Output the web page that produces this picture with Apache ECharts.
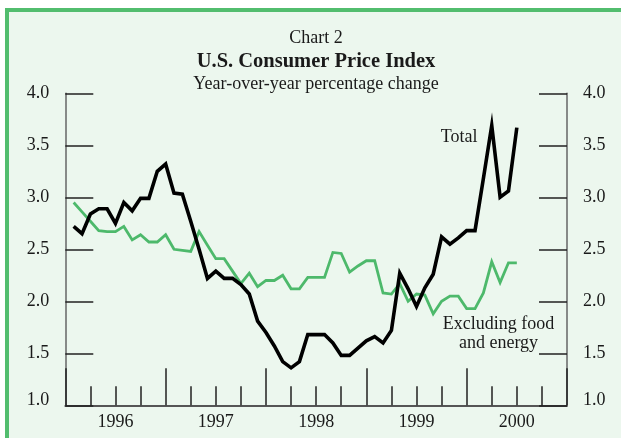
<!DOCTYPE html>
<html>
<head>
<meta charset="utf-8">
<script src="https://cdn.jsdelivr.net/npm/echarts@6/dist/echarts.min.js"></script>
<style>
html,body{margin:0;padding:0;background:#fff;}
#chart{width:621px;height:438px;}
</style>
</head>
<body>
<div id="chart"></div>
<script>
// Monthly data, Jan 1996 .. Jun 2000 (year-over-year % change)
const yearLabels = ['1996', '1997', '1998', '1999', '2000'];
const totalCPI = [
  2.72, 2.65, 2.84, 2.89, 2.89, 2.75, 2.95, 2.87, 2.99, 2.99, 3.25, 3.32,
  3.04, 3.03, 2.77, 2.50, 2.22, 2.29, 2.22, 2.22, 2.16, 2.07, 1.81, 1.70,
  1.57, 1.42, 1.36, 1.42, 1.68, 1.68, 1.68, 1.60, 1.48, 1.48, 1.55, 1.62,
  1.66, 1.60, 1.72, 2.27, 2.12, 1.95, 2.13, 2.26, 2.62, 2.55, 2.61, 2.68,
  2.68, 3.18, 3.69, 3.00, 3.06, 3.67
];
const coreCPI = [
  2.95, 2.86, 2.77, 2.68, 2.67, 2.67, 2.72, 2.59, 2.64, 2.57, 2.57, 2.64,
  2.50, 2.49, 2.48, 2.67, 2.54, 2.41, 2.41, 2.29, 2.17, 2.27, 2.14, 2.20,
  2.20, 2.25, 2.12, 2.12, 2.23, 2.23, 2.23, 2.47, 2.46, 2.28, 2.34, 2.39,
  2.39, 2.08, 2.07, 2.17, 2.00, 2.07, 2.06, 1.88, 2.00, 2.05, 2.05, 1.93,
  1.93, 2.08, 2.38, 2.18, 2.37, 2.37
];
const yTicks = {min: 1, max: 4, step: 0.5};

const FONT = 'Liberation Serif';
const TXT = '#1a1a1a';
const toPts = arr => arr.map((v, i) => [i + 1, v]);

const yLabelFmt = v => v === yTicks.min ? '{lo|' + v.toFixed(1) + '}' : v.toFixed(1);
const yAxisBase = pos => ({
  type: 'value', position: pos, min: yTicks.min, max: yTicks.max, interval: yTicks.step,
  axisLine: {show: true, onZero: false, lineStyle: {color: '#666', width: 1.5}},
  axisTick: {show: true, inside: true, length: 28, lineStyle: {color: '#222', width: 1.5}},
  axisLabel: {margin: 16, color: TXT, fontFamily: FONT, fontSize: 18, formatter: yLabelFmt,
    rich: {lo: {fontFamily: FONT, fontSize: 18, color: TXT, padding: [0, 0, 11, 0]}}},
  splitLine: {show: false}
});

const chart = echarts.init(document.getElementById('chart'), null, {renderer: 'canvas'});
chart.setOption({
  animation: false,
  backgroundColor: '#ffffff',
  grid: {left: 65.3, right: 54, top: 93.3, bottom: 32.7},
  xAxis: [
    {
      type: 'value', min: 0, max: 60, interval: 12, position: 'bottom',
      axisLine: {show: true, onZero: false, lineStyle: {color: '#555', width: 1.8}},
      axisTick: {show: true, inside: true, length: 37, lineStyle: {color: '#222', width: 1.5}},
      minorTick: {show: true, splitNumber: 4, length: 19, lineStyle: {color: '#222', width: 1.5}},
      axisLabel: {show: false},
      splitLine: {show: false}
    },
    {
      type: 'value', min: 0, max: 60, interval: 6, position: 'bottom',
      axisLine: {show: false, onZero: false}, axisTick: {show: false}, splitLine: {show: false},
      axisLabel: {
        margin: 8, color: TXT, fontFamily: FONT, fontSize: 18, showMinLabel: true, showMaxLabel: true,
        formatter: v => (v % 12 === 6) ? yearLabels[(v - 6) / 12] : ''
      }
    }
  ],
  yAxis: [yAxisBase('left'), yAxisBase('right')],
  series: [
    {
      name: 'Excluding food and energy', type: 'line', xAxisIndex: 0, yAxisIndex: 0,
      data: toPts(coreCPI), showSymbol: false, symbol: 'none', z: 3,
      lineStyle: {color: '#4DB96B', width: 2.8, join: 'miter'}
    },
    {
      name: 'Total', type: 'line', xAxisIndex: 0, yAxisIndex: 0,
      data: toPts(totalCPI), showSymbol: false, symbol: 'none', z: 4,
      lineStyle: {color: '#000000', width: 3.6, join: 'miter'}
    }
  ],
  graphic: [
    {type: 'rect', z: -10, silent: true, shape: {x: 5, y: 8, width: 616, height: 430}, style: {fill: '#ECF7EE'}},
    {type: 'rect', z: -9, silent: true, shape: {x: 5, y: 8, width: 616, height: 4}, style: {fill: '#52BD6E'}},
    {type: 'rect', z: -9, silent: true, shape: {x: 5, y: 8, width: 4, height: 430}, style: {fill: '#52BD6E'}},
    {type: 'text', z: 10, x: 316, y: 37.8, style: {text: 'Chart 2', font: '18px "Liberation Serif"', fill: TXT, textAlign: 'center', textVerticalAlign: 'middle'}},
    {type: 'text', z: 10, x: 316, y: 61.5, style: {text: 'U.S. Consumer Price Index', font: 'bold 20.5px "Liberation Serif"', fill: TXT, textAlign: 'center', textVerticalAlign: 'middle'}},
    {type: 'text', z: 10, x: 316, y: 84.5, style: {text: 'Year-over-year percentage change', font: '18px "Liberation Serif"', fill: TXT, textAlign: 'center', textVerticalAlign: 'middle'}},
    {type: 'text', z: 10, x: 477.5, y: 137.5, style: {text: 'Total', font: '18px "Liberation Serif"', fill: TXT, textAlign: 'right', textVerticalAlign: 'middle'}},
    {type: 'text', z: 10, x: 498.5, y: 324.5, style: {text: 'Excluding food', font: '18px "Liberation Serif"', fill: TXT, textAlign: 'center', textVerticalAlign: 'middle'}},
    {type: 'text', z: 10, x: 498.5, y: 342.8, style: {text: 'and energy', font: '18px "Liberation Serif"', fill: TXT, textAlign: 'center', textVerticalAlign: 'middle'}}
  ]
});
</script>
</body>
</html>
